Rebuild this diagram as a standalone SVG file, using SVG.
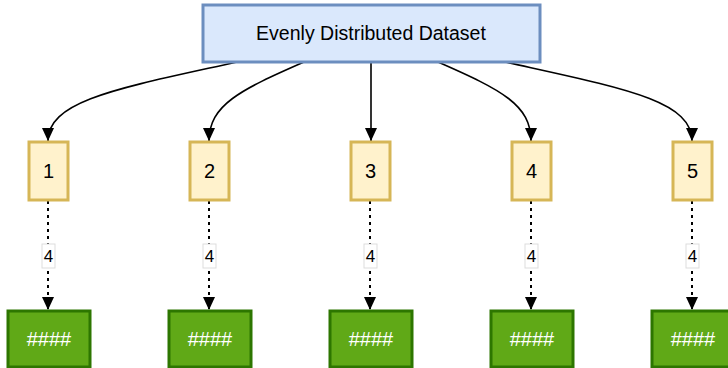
<svg xmlns="http://www.w3.org/2000/svg" width="728" height="368" viewBox="0 0 728 368">
<style>
text{font-family:"Liberation Sans",Arial,sans-serif;font-size:19.5px;text-anchor:middle;dominant-baseline:central;fill:#000}
.top{fill:#dae8fc;stroke:#6c8ebf;stroke-width:3}
.part{fill:#fff2cc;stroke:#d6b656;stroke-width:3}
.out{fill:#60a917;stroke:#2d7600;stroke-width:3}
.w{fill:#fff;font-size:20px}
.n{font-size:20px}
.e{fill:none;stroke:#000;stroke-width:1.6;marker-end:url(#ah)}
.d{fill:none;stroke:#000;stroke-width:2;stroke-dasharray:3 4;marker-end:url(#ah)}
.lbl{fill:#fff;stroke:#ddd;stroke-width:1}
.lt{font-size:17px}
</style>
<defs>
<marker id="ah" viewBox="0 0 13 12" refX="13" refY="6" markerWidth="13" markerHeight="12" markerUnits="userSpaceOnUse" orient="auto">
<path d="M0,0 L13,6 L0,12 Z" fill="#000"/>
</marker>
</defs>
<g id="connectors">
<path class="e" d="M237,62 C120,88 48,100 48,141"/>
<path class="e" d="M304,62 C240,90 209,105 209,141"/>
<path class="e" d="M371,62 L371,141"/>
<path class="e" d="M438,62 C502,90 531,105 531,141"/>
<path class="e" d="M505,62 C622,88 692,100 692,141"/>
<path class="d" d="M48,201 L48,310"/>
<path class="d" d="M209,201 L209,310"/>
<path class="d" d="M370,201 L370,310"/>
<path class="d" d="M531,201 L531,310"/>
<path class="d" d="M692,201 L692,310"/>
<g id="labels">
<rect class="lbl" x="42" y="244" width="13" height="24"/><text class="lt" x="48.5" y="256">4</text>
<rect class="lbl" x="203" y="244" width="13" height="24"/><text class="lt" x="209.5" y="256">4</text>
<rect class="lbl" x="364" y="244" width="13" height="24"/><text class="lt" x="370.5" y="256">4</text>
<rect class="lbl" x="525" y="244" width="13" height="24"/><text class="lt" x="531.5" y="256">4</text>
<rect class="lbl" x="686" y="244" width="13" height="24"/><text class="lt" x="692.5" y="256">4</text>
</g>
</g>
<g id="dataset"><rect class="top" x="203" y="5" width="337" height="57"/><text x="371" y="33">Evenly Distributed Dataset</text></g>
<g id="p1"><rect class="part" x="29" y="142" width="39" height="58"/><text class="n" x="48.5" y="171">1</text></g>
<g id="p2"><rect class="part" x="190" y="142" width="39" height="58"/><text class="n" x="209.5" y="171">2</text></g>
<g id="p3"><rect class="part" x="351" y="142" width="39" height="58"/><text class="n" x="370.5" y="171">3</text></g>
<g id="p4"><rect class="part" x="512" y="142" width="39" height="58"/><text class="n" x="531.5" y="171">4</text></g>
<g id="p5"><rect class="part" x="673" y="142" width="39" height="58"/><text class="n" x="692.5" y="171">5</text></g>
<g id="o1"><rect class="out" x="8" y="311" width="82" height="56"/><text class="w" x="49" y="339">####</text></g>
<g id="o2"><rect class="out" x="169" y="311" width="82" height="56"/><text class="w" x="210" y="339">####</text></g>
<g id="o3"><rect class="out" x="330" y="311" width="82" height="56"/><text class="w" x="371" y="339">####</text></g>
<g id="o4"><rect class="out" x="491" y="311" width="82" height="56"/><text class="w" x="532" y="339">####</text></g>
<g id="o5"><rect class="out" x="652" y="311" width="82" height="56"/><text class="w" x="693" y="339">####</text></g>
</svg>
